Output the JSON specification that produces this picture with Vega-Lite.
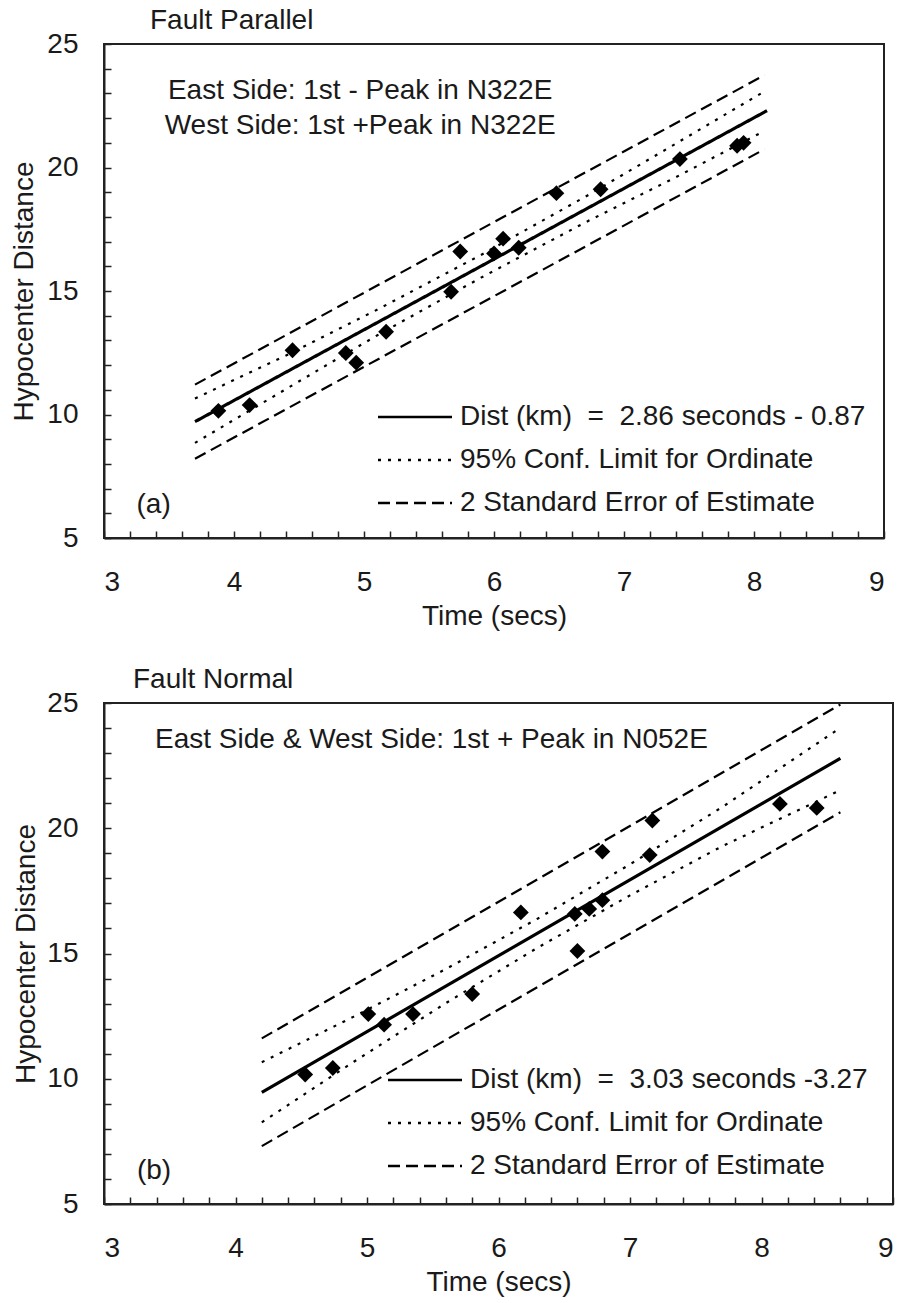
{
  "$schema": "https://vega.github.io/schema/vega-lite/v6.json",
  "background": "white",
  "padding": {"left": 9, "top": 6, "right": 5, "bottom": 0},
  "spacing": 34,
  "config": {
    "font": "Liberation Sans",
    "view": {"stroke": "#222", "strokeWidth": 2},
    "axis": {
      "grid": false,
      "domainColor": "#222",
      "domainWidth": 2,
      "tickColor": "#222",
      "tickWidth": 1.5,
      "tickSize": -7,
      "labelFontSize": 28,
      "labelColor": "#1a1a1a",
      "labelOverlap": false,
      "titleFontSize": 28,
      "titleFontWeight": "normal",
      "titleColor": "#1a1a1a"
    },
    "title": {"fontSize": 28, "fontWeight": "normal", "color": "#1a1a1a", "anchor": "start", "frame": "group"},
    "legend": {
      "orient": "none",
      "title": null,
      "symbolType": "M-5,0H5",
      "symbolSize": 219,
      "symbolStrokeWidth": 2.5,
      "symbolStrokeColor": "black",
      "labelFontSize": 28,
      "labelColor": "#1a1a1a",
      "labelLimit": 700,
      "labelOffset": 31,
      "rowPadding": 15,
      "padding": 0
    }
  },
  "datasets": {
    "pa": [
      {"t": 3.88, "d": 10.15}, {"t": 4.12, "d": 10.38}, {"t": 4.45, "d": 12.6}, {"t": 4.86, "d": 12.49},
      {"t": 4.94, "d": 12.1}, {"t": 5.17, "d": 13.35}, {"t": 5.67, "d": 14.97}, {"t": 5.74, "d": 16.6},
      {"t": 6.0, "d": 16.52}, {"t": 6.07, "d": 17.12}, {"t": 6.19, "d": 16.75}, {"t": 6.48, "d": 18.96},
      {"t": 6.82, "d": 19.12}, {"t": 7.43, "d": 20.34}, {"t": 7.87, "d": 20.88}, {"t": 7.92, "d": 21.0}
    ],
    "la": [
      {"series": "fit", "side": "m", "t": 3.7, "d": 9.71}, {"series": "fit", "side": "m", "t": 8.1, "d": 22.3},
      {"series": "ci", "side": "u", "t": 3.7, "d": 10.65}, {"series": "ci", "side": "u", "t": 4.4, "d": 12.39},
      {"series": "ci", "side": "u", "t": 5.1, "d": 14.24}, {"series": "ci", "side": "u", "t": 5.9, "d": 16.46},
      {"series": "ci", "side": "u", "t": 6.7, "d": 18.81}, {"series": "ci", "side": "u", "t": 7.4, "d": 20.97},
      {"series": "ci", "side": "u", "t": 8.08, "d": 23.08},
      {"series": "ci", "side": "l", "t": 3.7, "d": 8.85}, {"series": "ci", "side": "l", "t": 4.4, "d": 11.03},
      {"series": "ci", "side": "l", "t": 5.1, "d": 13.2}, {"series": "ci", "side": "l", "t": 5.9, "d": 15.54},
      {"series": "ci", "side": "l", "t": 6.7, "d": 17.77}, {"series": "ci", "side": "l", "t": 7.4, "d": 19.61},
      {"series": "ci", "side": "l", "t": 8.08, "d": 21.48},
      {"series": "se", "side": "u", "t": 3.7, "d": 11.21}, {"series": "se", "side": "u", "t": 8.08, "d": 23.74},
      {"series": "se", "side": "l", "t": 3.7, "d": 8.21}, {"series": "se", "side": "l", "t": 8.08, "d": 20.74}
    ],
    "pb": [
      {"t": 4.53, "d": 10.17}, {"t": 4.74, "d": 10.43}, {"t": 5.01, "d": 12.58}, {"t": 5.13, "d": 12.16},
      {"t": 5.35, "d": 12.58}, {"t": 5.8, "d": 13.38}, {"t": 6.17, "d": 16.64}, {"t": 6.58, "d": 16.58},
      {"t": 6.69, "d": 16.78}, {"t": 6.79, "d": 17.13}, {"t": 6.6, "d": 15.1}, {"t": 6.79, "d": 19.07},
      {"t": 7.15, "d": 18.93}, {"t": 7.17, "d": 20.31}, {"t": 8.14, "d": 20.97}, {"t": 8.42, "d": 20.81}
    ],
    "lb": [
      {"series": "fit", "side": "m", "t": 4.2, "d": 9.46}, {"series": "fit", "side": "m", "t": 8.6, "d": 22.79},
      {"series": "ci", "side": "u", "t": 4.2, "d": 10.66}, {"series": "ci", "side": "u", "t": 4.9, "d": 12.48},
      {"series": "ci", "side": "u", "t": 5.6, "d": 14.38}, {"series": "ci", "side": "u", "t": 6.3, "d": 16.4},
      {"series": "ci", "side": "u", "t": 7.0, "d": 18.56}, {"series": "ci", "side": "u", "t": 7.7, "d": 20.84},
      {"series": "ci", "side": "u", "t": 8.6, "d": 24.01},
      {"series": "ci", "side": "l", "t": 4.2, "d": 8.26}, {"series": "ci", "side": "l", "t": 4.9, "d": 10.68},
      {"series": "ci", "side": "l", "t": 5.6, "d": 13.02}, {"series": "ci", "side": "l", "t": 6.3, "d": 15.24},
      {"series": "ci", "side": "l", "t": 7.0, "d": 17.32}, {"series": "ci", "side": "l", "t": 7.7, "d": 19.28},
      {"series": "ci", "side": "l", "t": 8.6, "d": 21.52},
      {"series": "se", "side": "u", "t": 4.2, "d": 11.61}, {"series": "se", "side": "u", "t": 8.6, "d": 24.94},
      {"series": "se", "side": "l", "t": 4.2, "d": 7.31}, {"series": "se", "side": "l", "t": 8.6, "d": 20.64}
    ]
  },
  "resolve": {"scale": {"strokeDash": "independent"}, "legend": {"strokeDash": "independent"}},
  "vconcat": [
    {
      "title": {"text": "Fault Parallel", "dx": 46, "offset": -5},
      "width": 780,
      "height": 494,
      "encoding": {
        "x": {"type": "quantitative", "scale": {"domain": [3, 9], "nice": false, "zero": false},
          "axis": {"title": "Time (secs)", "values": [3,3.2,3.4,3.6,3.8,4,4.2,4.4,4.6,4.8,5,5.2,5.4,5.6,5.8,6,6.2,6.4,6.6,6.8,7,7.2,7.4,7.6,7.8,8,8.2,8.4,8.6,8.8,9],
            "tickCount": 40, "labelExpr": "datum.value % 1 === 0 ? format(datum.value, 'd') : ''", "labelPadding": 37, "titlePadding": 6}},
        "y": {"type": "quantitative", "scale": {"domain": [5, 25], "nice": false, "zero": false},
          "axis": {"title": "Hypocenter Distance", "values": [5,6,7,8,9,10,11,12,13,14,15,16,17,18,19,20,21,22,23,24,25],
            "tickCount": 30, "labelExpr": "datum.value % 5 === 0 ? format(datum.value, 'd') : ''", "labelPadding": 33, "titlePadding": 8}}
      },
      "layer": [
        {
          "data": {"name": "la"},
          "transform": [{"filter": "datum.series !== 'fit'"}],
          "mark": {"type": "line", "color": "black", "strokeWidth": 2.2},
          "encoding": {
            "x": {"field": "t"},
            "y": {"field": "d"},
            "detail": {"field": "side"},
            "strokeDash": {"field": "series", "type": "nominal",
              "scale": {"domain": ["fit", "ci", "se"], "range": [[1, 0], [3, 7], [12, 6]]},
              "legend": {"legendX": 297, "legendY": 359,
                "labelExpr": "datum.value == 'fit' ? 'Dist (km)\u00a0\u00a0=\u00a0\u00a02.86 seconds - 0.87' : datum.value == 'ci' ? '95% Conf. Limit for Ordinate' : '2 Standard Error of Estimate'",
                "symbolStrokeWidth": 2.5}}
          }
        },
        {
          "data": {"name": "la"},
          "transform": [{"filter": "datum.series === 'fit'"}],
          "mark": {"type": "line", "color": "black", "strokeWidth": 3.2},
          "encoding": {
            "x": {"field": "t"},
            "y": {"field": "d"},
            "strokeDash": {"field": "series", "type": "nominal"}
          }
        },
        {
          "data": {"name": "pa"},
          "mark": {"type": "point", "shape": "diamond", "filled": true, "color": "black", "size": 250, "opacity": 1},
          "encoding": {"x": {"field": "t"}, "y": {"field": "d"}}
        },
        {
          "data": {"values": [{}]},
          "mark": {"type": "text", "align": "center", "baseline": "alphabetic", "fontSize": 28, "lineHeight": 35, "color": "#1a1a1a"},
          "encoding": {"x": {"datum": 4.97}, "y": {"datum": 22.77},
            "text": {"value": ["East Side: 1st - Peak in N322E", "West Side: 1st +Peak in N322E"]}}
        },
        {
          "data": {"values": [{}]},
          "mark": {"type": "text", "align": "left", "baseline": "alphabetic", "fontSize": 28, "color": "#1a1a1a"},
          "encoding": {"x": {"datum": 3.25}, "y": {"datum": 6.01}, "text": {"value": "(a)"}}
        }
      ]
    },
    {
      "title": {"text": "Fault Normal", "dx": 29, "offset": -5},
      "width": 789,
      "height": 501,
      "encoding": {
        "x": {"type": "quantitative", "scale": {"domain": [3, 9], "nice": false, "zero": false},
          "axis": {"title": "Time (secs)", "values": [3,3.2,3.4,3.6,3.8,4,4.2,4.4,4.6,4.8,5,5.2,5.4,5.6,5.8,6,6.2,6.4,6.6,6.8,7,7.2,7.4,7.6,7.8,8,8.2,8.4,8.6,8.8,9],
            "tickCount": 40, "labelExpr": "datum.value % 1 === 0 ? format(datum.value, 'd') : ''", "labelPadding": 37, "titlePadding": 6}},
        "y": {"type": "quantitative", "scale": {"domain": [5, 25], "nice": false, "zero": false},
          "axis": {"title": "Hypocenter Distance", "values": [5,6,7,8,9,10,11,12,13,14,15,16,17,18,19,20,21,22,23,24,25],
            "tickCount": 30, "labelExpr": "datum.value % 5 === 0 ? format(datum.value, 'd') : ''", "labelPadding": 33, "titlePadding": 6}}
      },
      "layer": [
        {
          "data": {"name": "lb"},
          "transform": [{"filter": "datum.series !== 'fit'"}],
          "mark": {"type": "line", "color": "black", "strokeWidth": 2.2},
          "encoding": {
            "x": {"field": "t"},
            "y": {"field": "d"},
            "detail": {"field": "side"},
            "strokeDash": {"field": "series", "type": "nominal",
              "scale": {"domain": ["fit", "ci", "se"], "range": [[1, 0], [3, 7], [12, 6]]},
              "legend": {"legendX": 307, "legendY": 363,
                "labelExpr": "datum.value == 'fit' ? 'Dist (km)\u00a0\u00a0=\u00a0\u00a03.03 seconds -3.27' : datum.value == 'ci' ? '95% Conf. Limit for Ordinate' : '2 Standard Error of Estimate'",
                "symbolStrokeWidth": 2.5}}
          }
        },
        {
          "data": {"name": "lb"},
          "transform": [{"filter": "datum.series === 'fit'"}],
          "mark": {"type": "line", "color": "black", "strokeWidth": 3.2},
          "encoding": {
            "x": {"field": "t"},
            "y": {"field": "d"},
            "strokeDash": {"field": "series", "type": "nominal"}
          }
        },
        {
          "data": {"name": "pb"},
          "mark": {"type": "point", "shape": "diamond", "filled": true, "color": "black", "size": 250, "opacity": 1},
          "encoding": {"x": {"field": "t"}, "y": {"field": "d"}}
        },
        {
          "data": {"values": [{}]},
          "mark": {"type": "text", "align": "center", "baseline": "alphabetic", "fontSize": 28, "color": "#1a1a1a"},
          "encoding": {"x": {"datum": 5.49}, "y": {"datum": 23.2},
            "text": {"value": "East Side & West Side: 1st + Peak in N052E"}}
        },
        {
          "data": {"values": [{}]},
          "mark": {"type": "text", "align": "left", "baseline": "alphabetic", "fontSize": 28, "color": "#1a1a1a"},
          "encoding": {"x": {"datum": 3.25}, "y": {"datum": 6.0}, "text": {"value": "(b)"}}
        }
      ]
    }
  ]
}
